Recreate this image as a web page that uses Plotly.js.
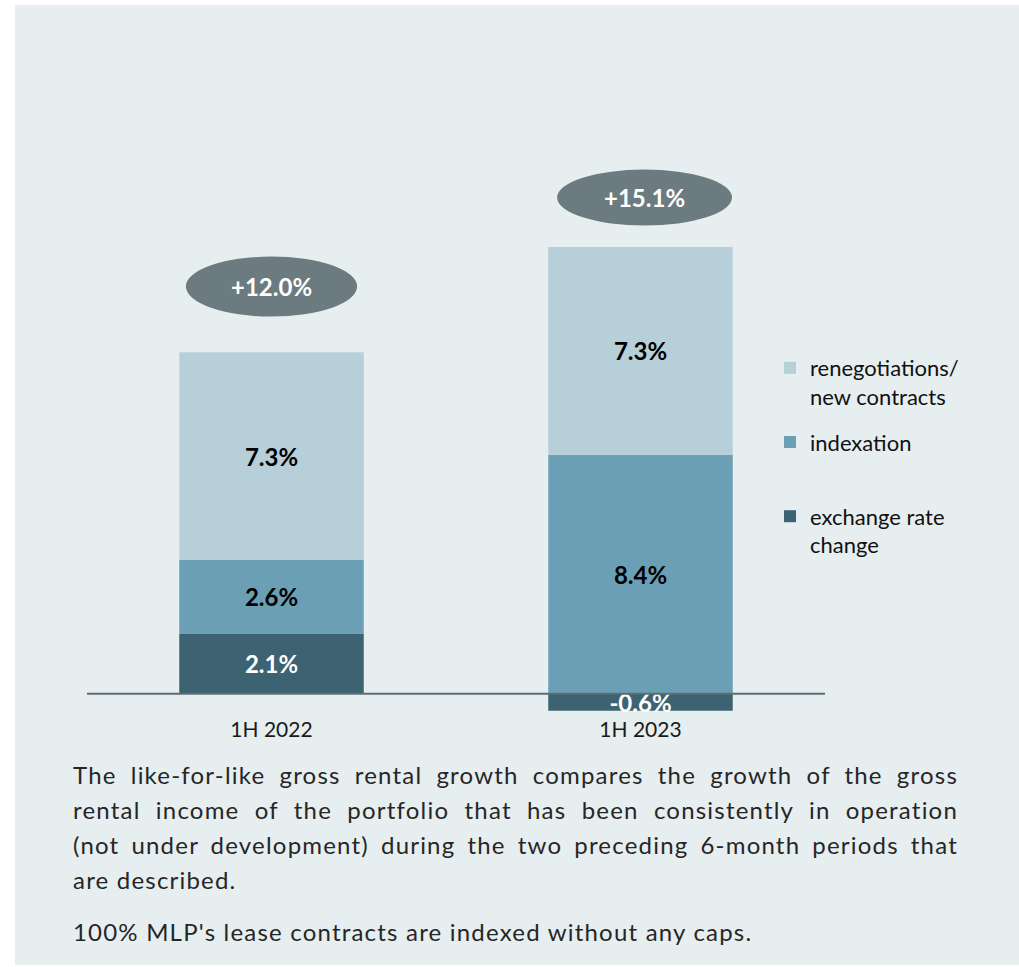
<!DOCTYPE html>
<html><head><meta charset="utf-8">
<script src="https://cdn.plot.ly/plotly-3.0.1.min.js"></script>
<style>
html,body{margin:0;padding:0;background:#ffffff;width:1019px;height:967px;overflow:hidden;}
#panel{position:absolute;left:15px;top:5px;width:1004px;height:960px;background:#e6eef0;}
#chart{position:absolute;left:0;top:0;width:1004px;height:960px;}
.note{position:absolute;left:58px;width:885px;font-family:Lato,'Open Sans',sans-serif;font-size:24px;letter-spacing:1.2px;line-height:35px;color:#262626;margin:0;}
.note .jl{display:block;text-align:justify;text-align-last:justify;white-space:nowrap;}
.note .ll{display:block;text-align:left;white-space:nowrap;}
</style></head>
<body>
<div id="panel">
<div id="chart"></div>
<div class="note" style="top:752px;">
<span class="jl">The like-for-like gross rental growth compares the growth of the gross</span>
<span class="jl">rental income of the portfolio that has been consistently in operation</span>
<span class="jl">(not under development) during the two preceding 6-month periods that</span>
<span class="ll">are described.</span>
</div>
<div class="note" style="top:909px;"><span class="ll">100% MLP's lease contracts are indexed without any caps.</span></div>
</div>
<script>
const categories = ['1H 2022', '1H 2023'];
const exchangeRate = [2.1, -0.6];
const indexation = [2.6, 8.4];
const renegotiations = [7.3, 7.3];
const seriesNames = ['exchange rate<br>change', 'indexation<br> ', 'renegotiations/<br>new contracts'];
const seriesColors = ['#3d6373', '#6b9fb5', '#b6cfd8'];
const labelColors = ['#ffffff', '#000000', '#000000'];
const legendRanks = [3, 2, 1];

const seriesValues = [exchangeRate, indexation, renegotiations];
const totals = categories.map((c, i) => seriesValues.reduce((s, arr) => s + arr[i], 0));

const traces = seriesValues.map((vals, k) => ({
  type: 'bar',
  x: categories,
  y: vals,
  name: seriesNames[k],
  legendgroup: 'g' + k,
  legendrank: legendRanks[k],
  marker: {color: seriesColors[k], line: {width: 0}},
  texttemplate: '%{y:.1f}%',
  textposition: 'inside',
  insidetextanchor: 'middle',
  constraintext: 'none',
  textangle: 0,
  insidetextfont: {family: 'Lato, sans-serif', size: 24, color: labelColors[k], weight: 'bold'},
  cliponaxis: false,
  hoverinfo: 'skip'
}));

// ellipse positions for total bubbles (layout decoration)
const bubbles = [
  {x0: -0.232, x1: 0.232, y0: 13.25, y1: 15.36},
  {x0: 0.774, x1: 1.248, y0: 16.45, y1: 18.42}
];

const shapes = [
  {type: 'line', xref: 'paper', x0: 0, x1: 1, yref: 'y', y0: 0, y1: 0,
   line: {color: '#5d6e73', width: 2}, layer: 'above'}
].concat(bubbles.map(b => ({
  type: 'circle', xref: 'x', yref: 'y', x0: b.x0, x1: b.x1, y0: b.y0, y1: b.y1,
  fillcolor: '#6b7b80', line: {width: 0}, layer: 'above'
})));

const annotations = totals.map((t, i) => ({
  x: (bubbles[i].x0 + bubbles[i].x1) / 2,
  y: (bubbles[i].y0 + bubbles[i].y1) / 2,
  xref: 'x', yref: 'y',
  text: '<b>' + (t >= 0 ? '+' : '') + t.toFixed(1) + '%</b>',
  showarrow: false,
  font: {family: 'Lato, sans-serif', size: 24, color: '#ffffff'}
}));

const layout = {
  width: 1004, height: 960,
  margin: {l: 72, r: 194, t: 148, b: 250},
  paper_bgcolor: '#e6eef0',
  plot_bgcolor: '#e6eef0',
  barmode: 'relative',
  bargap: 0.5,
  showlegend: true,
  legend: {
    x: 0.9255, xanchor: 'left', y: 0.6548, yanchor: 'top',
    traceorder: 'grouped', tracegroupgap: 14, valign: 'top',
    font: {family: 'Lato, sans-serif', size: 22, color: '#111111'},
    bgcolor: 'rgba(0,0,0,0)'
  },
  xaxis: {
    type: 'category', range: [-0.5, 1.5],
    showgrid: false, zeroline: false, showline: false, ticks: '',
    tickfont: {family: 'Lato, sans-serif', size: 21, color: '#1a1a1a'}
  },
  yaxis: {
    range: [-0.75, 19], showgrid: false, zeroline: false, showline: false,
    showticklabels: false, ticks: ''
  },
  shapes: shapes,
  annotations: annotations,
  font: {family: 'Lato, sans-serif'}
};

Plotly.newPlot('chart', traces, layout, {displayModeBar: false, staticPlot: true});
</script>
</body></html>
